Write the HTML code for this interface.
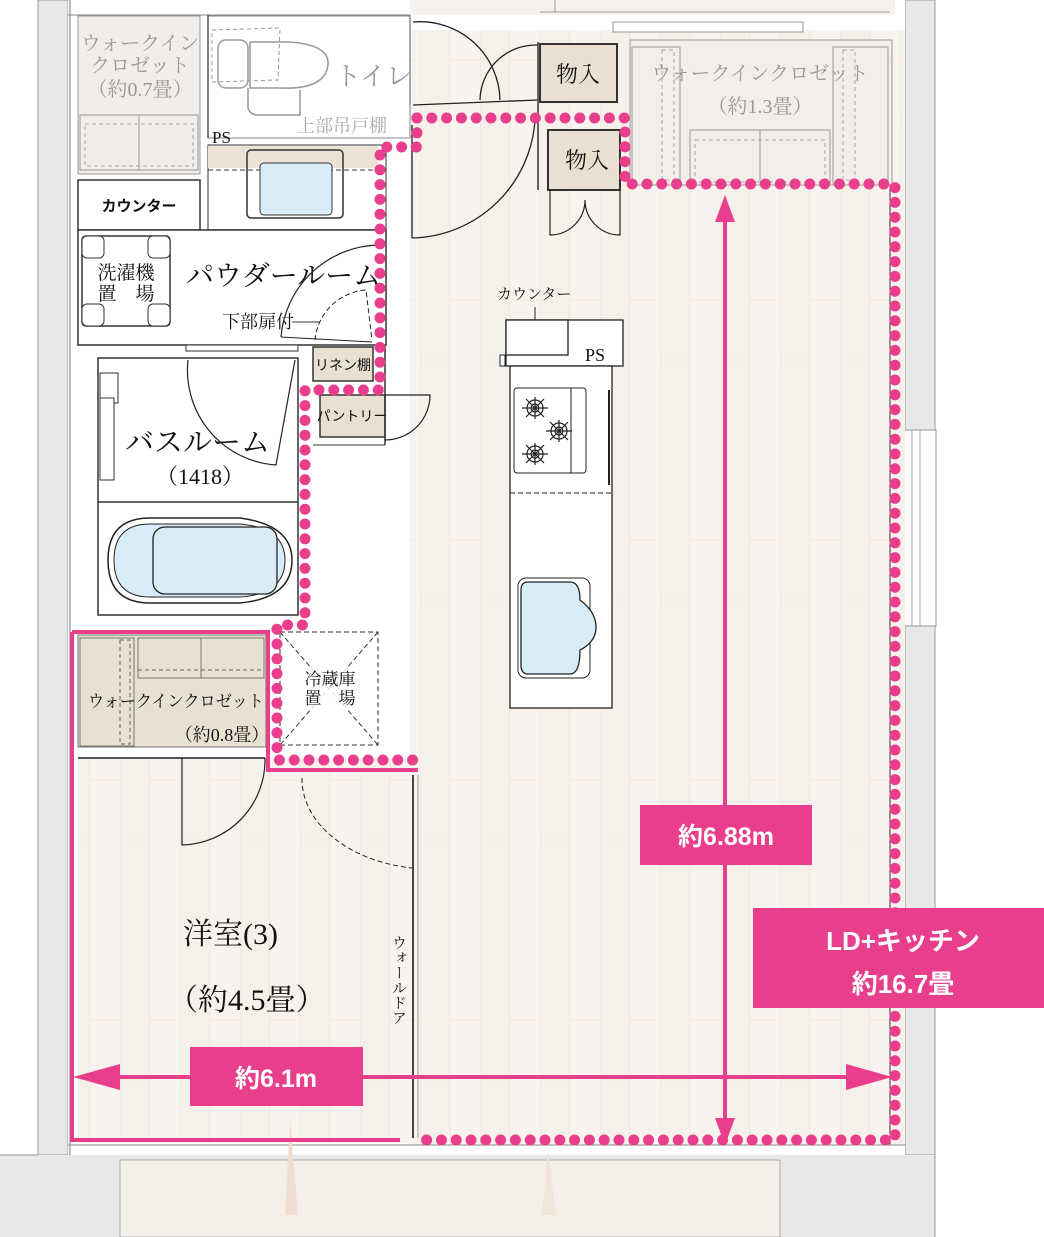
<!DOCTYPE html>
<html><head><meta charset="utf-8"><style>
html,body{margin:0;padding:0;background:#fff;}
svg{display:block;}
.s{font-family:"Liberation Serif","Noto Serif CJK JP",serif;}
.g{font-family:"Liberation Sans","Noto Sans CJK JP",sans-serif;}
</style></head><body>
<svg width="1044" height="1237" viewBox="0 0 1044 1237" xmlns="http://www.w3.org/2000/svg">
<defs>
<pattern id="wood" x="0" y="0" width="60" height="240" patternUnits="userSpaceOnUse">
<rect width="60" height="240" fill="#f8f3ee"/>
<rect x="0" y="0" width="30" height="240" fill="#f6f0ea"/>
<line x1="30" y1="0" x2="30" y2="240" stroke="#efe6de" stroke-width="1"/>
<line x1="0" y1="0" x2="0" y2="240" stroke="#efe6de" stroke-width="1"/>
<line x1="0" y1="120" x2="30" y2="120" stroke="#f0e8e0" stroke-width="1"/>
<line x1="30" y1="60" x2="60" y2="60" stroke="#f0e8e0" stroke-width="1"/>
</pattern>
</defs>
<rect x="38" y="0" width="30" height="1155" fill="#e8e8e8" stroke="#999" stroke-width="1"/>
<rect x="905" y="0" width="30" height="432" fill="#e8e8e8" stroke="#999" stroke-width="1"/>
<rect x="905" y="625" width="30" height="530" fill="#e8e8e8" stroke="#999" stroke-width="1"/>
<rect x="0" y="1155" width="935" height="82" fill="#e8e8e8"/>
<line x1="0" y1="1155" x2="38" y2="1155" stroke="#999"/>
<rect x="120" y="1160" width="660" height="77" fill="#f5efea" stroke="#aaa" stroke-width="1"/>
<line x1="935" y1="0" x2="935" y2="1237" stroke="#999"/>
<rect x="900" y="430" width="36" height="196" fill="#fff" stroke="#999"/>
<line x1="912" y1="430" x2="912" y2="626" stroke="#aaa"/>
<line x1="920" y1="430" x2="920" y2="626" stroke="#aaa"/>
<rect x="68" y="0" width="837" height="1155" fill="#fff"/>
<rect x="410" y="30" width="495" height="1115" fill="url(#wood)"/>
<rect x="78" y="758" width="335" height="385" fill="url(#wood)"/>
<rect x="410" y="0" width="485" height="15" fill="#f6f1ec"/>
<line x1="68" y1="15" x2="410" y2="15" stroke="#888"/>
<rect x="630" y="40" width="262" height="145" fill="#f2eee9" stroke="#999"/>
<line x1="555" y1="0" x2="555" y2="12" stroke="#999"/>
<line x1="540" y1="12" x2="890" y2="12" stroke="#999"/>
<rect x="613" y="22" width="190" height="10" fill="#fff" stroke="#999"/>
<rect x="78" y="16" width="122" height="158" fill="#f1ede8" stroke="#999"/>
<rect x="80" y="115" width="118" height="55" fill="none" stroke="#999"/>
<line x1="139" y1="115" x2="139" y2="170" stroke="#999"/>
<rect x="85" y="124" width="108" height="42" fill="none" stroke="#aaa" stroke-dasharray="4 3"/>
<text class="s" x="140" y="50" font-size="20" fill="#999" text-anchor="middle">ウォークイン</text>
<text class="s" x="140" y="72" font-size="20" fill="#999" text-anchor="middle">クロゼット</text>
<text class="s" x="140" y="96" font-size="20" fill="#999" text-anchor="middle">（約0.7畳）</text>
<rect x="208" y="16" width="202" height="122" fill="#fff" stroke="#888"/>
<line x1="208" y1="15" x2="208" y2="138" stroke="#555" stroke-width="1.5"/>
<path d="M212 30 L280 28 L278 80 L212 82 Z" fill="none" stroke="#999" stroke-dasharray="4 3"/>
<path d="M250 42 L290 42 Q330 45 328 65 Q325 90 280 88 L250 88 Z" fill="none" stroke="#999" stroke-width="1.5"/>
<rect x="218" y="40" width="30" height="48" rx="8" fill="none" stroke="#999" stroke-width="1.5"/>
<path d="M248 88 L248 108 Q250 115 258 115 L300 115 L300 90" fill="none" stroke="#999" stroke-width="1.5"/>
<text class="s" x="335" y="85" font-size="26" fill="#999">トイレ</text>
<text class="s" x="297" y="132" font-size="18" fill="#aaa">上部吊戸棚</text>
<line x1="410" y1="15" x2="410" y2="105" stroke="#555"/>
<path d="M413 22 A80 80 0 0 1 500 100" fill="none" stroke="#222" stroke-width="1.3"/>
<path d="M480 100 A56 56 0 0 1 538 45" fill="none" stroke="#222" stroke-width="1.3"/>
<line x1="413" y1="105" x2="538" y2="100" stroke="#222" stroke-width="1.3"/>
<line x1="538" y1="42" x2="538" y2="190" stroke="#333" stroke-width="1.5"/>
<path d="M412 238 L412 125 M412 238 A126 126 0 0 0 535 120" fill="none" stroke="#222" stroke-width="1.3"/>
<rect x="540" y="44" width="77" height="58" fill="#e9e0d1" stroke="#333" stroke-width="2"/>
<text class="s" x="578" y="82" font-size="22" fill="#111" text-anchor="middle">物入</text>
<rect x="548" y="130" width="72" height="60" fill="#e9e0d1" stroke="#333" stroke-width="2"/>
<text class="s" x="587" y="168" font-size="22" fill="#111" text-anchor="middle">物入</text>
<path d="M550 190 L550 235 A35 35 0 0 0 585 200 M620 190 L620 235 A35 35 0 0 1 585 200" fill="none" stroke="#222" stroke-width="1.2"/>
<rect x="632" y="47" width="48" height="138" fill="none" stroke="#999"/>
<rect x="833" y="47" width="55" height="138" fill="none" stroke="#999"/>
<rect x="662" y="50" width="12" height="130" fill="none" stroke="#aaa" stroke-dasharray="4 3"/>
<rect x="843" y="50" width="12" height="130" fill="none" stroke="#aaa" stroke-dasharray="4 3"/>
<rect x="690" y="130" width="140" height="55" fill="none" stroke="#999"/>
<line x1="760" y1="130" x2="760" y2="185" stroke="#999"/>
<rect x="695" y="140" width="130" height="42" fill="none" stroke="#aaa" stroke-dasharray="4 3"/>
<text class="s" x="760" y="80" font-size="20" fill="#999" text-anchor="middle">ウォークインクロゼット</text>
<text class="s" x="760" y="113" font-size="20" fill="#999" text-anchor="middle">（約1.3畳）</text>
<text class="s" x="212" y="143" font-size="17" fill="#111">PS</text>
<rect x="208" y="145" width="178" height="85" fill="#fff" stroke="#333"/>
<rect x="208" y="146" width="170" height="22" fill="#ebe3d5"/>
<line x1="208" y1="170" x2="378" y2="170" stroke="#333" stroke-dasharray="5 3"/>
<rect x="247" y="150" width="96" height="68" rx="4" fill="none" stroke="#333" stroke-width="1.5"/>
<rect x="260" y="163" width="72" height="52" rx="4" fill="#d8ecf8" stroke="#333"/>
<line x1="208" y1="230" x2="386" y2="230" stroke="#333" stroke-width="1.5"/>
<rect x="78" y="180" width="122" height="50" fill="#fff" stroke="#333" stroke-width="1.5"/>
<text class="g" x="139" y="211" font-size="15" fill="#111" text-anchor="middle" font-weight="bold">カウンター</text>
<rect x="78" y="230" width="308" height="115" fill="#fff" stroke="#333" stroke-width="1.5"/>
<rect x="82" y="236" width="88" height="90" rx="4" fill="#fff" stroke="#333" stroke-width="1.5"/>
<rect x="82" y="236" width="22" height="22" rx="5" fill="#fff" stroke="#333"/>
<rect x="148" y="236" width="22" height="22" rx="5" fill="#fff" stroke="#333"/>
<rect x="82" y="304" width="22" height="22" rx="5" fill="#fff" stroke="#333"/>
<rect x="148" y="304" width="22" height="22" rx="5" fill="#fff" stroke="#333"/>
<text class="s" x="126" y="279" font-size="19" fill="#111" text-anchor="middle">洗濯機</text>
<text class="s" x="126" y="300" font-size="19" fill="#111" text-anchor="middle">置　場</text>
<text class="s" x="186" y="285" font-size="28" fill="#111">パウダールーム</text>
<text class="s" x="222" y="328" font-size="18" fill="#111">下部扉付</text>
<line x1="292" y1="322" x2="320" y2="322" stroke="#333"/>
<path d="M281 337 A100 100 0 0 1 380 245" fill="none" stroke="#222" stroke-width="1.2"/>
<path d="M315 340 A55 55 0 0 1 366 290 L372 340" fill="none" stroke="#222" stroke-dasharray="5 3"/>
<line x1="281" y1="337" x2="372" y2="342" stroke="#222"/>
<rect x="186" y="345" width="112" height="6" fill="#fff" stroke="#333"/>
<rect x="98" y="358" width="200" height="257" fill="#fff" stroke="#333" stroke-width="1.5"/>
<rect x="100" y="373" width="18" height="30" fill="#fff" stroke="#333"/>
<rect x="100" y="398" width="14" height="82" fill="#fff" stroke="#333"/>
<path d="M188 360 A95 95 0 0 0 276 465 L295 360" fill="none" stroke="#222" stroke-width="1.2"/>
<text class="s" x="125" y="452" font-size="29" fill="#111">バスルーム</text>
<text class="s" x="156" y="484" font-size="22" fill="#111">（1418）</text>
<line x1="98" y1="502" x2="298" y2="502" stroke="#333" stroke-width="1.5"/>
<path d="M150 518 L240 518 Q292 525 292 560 Q292 598 240 603 L150 603 Q108 603 108 560 Q108 518 150 518 Z" fill="#fff" stroke="#222" stroke-width="1.5"/>
<path d="M150 524 L240 524 Q285 528 285 560 Q285 594 240 597 L150 597 Q114 597 114 560 Q114 524 150 524 Z" fill="#d8ecf8" stroke="#222"/>
<rect x="153" y="527" width="124" height="67" rx="12" fill="#d8ecf8" stroke="#222" stroke-width="1.3"/>
<rect x="313" y="347" width="60" height="34" fill="#e9e0d1" stroke="#333" stroke-width="1.5"/>
<text class="g" x="343" y="370" font-size="14" fill="#111" text-anchor="middle">リネン棚</text>
<rect x="320" y="395" width="65" height="42" fill="#e9e0d1" stroke="#333" stroke-width="1.5"/>
<text class="g" x="352" y="421" font-size="14" fill="#111" text-anchor="middle">パントリー</text>
<path d="M385 395 L430 395 A45 45 0 0 1 385 440" fill="none" stroke="#222" stroke-width="1.2"/>
<line x1="385" y1="345" x2="385" y2="445" stroke="#333" stroke-width="1.5"/>
<line x1="313" y1="445" x2="385" y2="445" stroke="#333"/>
<text class="s" x="497" y="299" font-size="15" fill="#111">カウンター</text>
<line x1="535" y1="307" x2="535" y2="328" stroke="#222"/>
<rect x="506" y="320" width="117" height="46" fill="#fff" stroke="#222" stroke-width="1.3"/>
<rect x="506" y="320" width="62" height="35" fill="#fff" stroke="#222" stroke-width="1.3"/>
<text class="s" x="585" y="361" font-size="18" fill="#111">PS</text>
<rect x="500" y="355" width="5" height="11" fill="#fff" stroke="#222"/>
<rect x="510" y="366" width="102" height="342" fill="#fff" stroke="#222" stroke-width="1.3"/>
<rect x="514" y="388" width="72" height="85" rx="3" fill="#fff" stroke="#222"/>
<line x1="571" y1="388" x2="571" y2="473" stroke="#222"/>
<g fill="none" stroke="#222" stroke-width="1.2">
<circle cx="535" cy="408" r="8"/><circle cx="535" cy="408" r="4"/><path d="M522 408h26M535 397v22M526 399l18 18M544 399l-18 18"/>
<circle cx="559" cy="431" r="8"/><circle cx="559" cy="431" r="4"/><path d="M546 431h26M559 420v22M550 422l18 18M568 422l-18 18"/>
<circle cx="535" cy="454" r="8"/><circle cx="535" cy="454" r="4"/><path d="M522 454h26M535 443v22M526 445l18 18M544 445l-18 18"/>
</g>
<line x1="609" y1="390" x2="609" y2="485" stroke="#222" stroke-width="2"/>
<line x1="510" y1="493" x2="612" y2="493" stroke="#222" stroke-dasharray="5 3"/>
<rect x="518" y="578" width="72" height="100" rx="8" fill="#fff" stroke="#222"/>
<path d="M528 582 L570 582 Q580 582 580 600 Q596 612 596 627 Q596 642 580 650 Q580 674 570 674 L528 674 Q521 674 521 665 L521 590 Q521 582 528 582Z" fill="#d8ecf8" stroke="#222" stroke-width="1.3"/>
<rect x="280" y="632" width="98" height="113" fill="none" stroke="#333" stroke-dasharray="5 3"/>
<path d="M280 632 L378 745 M378 632 L280 745" stroke="#333" stroke-dasharray="5 3"/>
<rect x="300" y="668" width="60" height="42" fill="#fff" opacity="0.85"/>
<text class="s" x="330" y="685" font-size="17" fill="#111" text-anchor="middle">冷蔵庫</text>
<text class="s" x="330" y="704" font-size="17" fill="#111" text-anchor="middle">置　場</text>
<rect x="78" y="635" width="188" height="112" fill="#e8e0d1" stroke="#777"/>
<rect x="80" y="638" width="54" height="108" fill="none" stroke="#777"/>
<rect x="120" y="640" width="10" height="104" fill="none" stroke="#666" stroke-dasharray="4 3"/>
<rect x="138" y="638" width="126" height="40" fill="none" stroke="#777"/>
<line x1="201" y1="638" x2="201" y2="678" stroke="#777"/>
<line x1="138" y1="670" x2="264" y2="670" stroke="#666" stroke-dasharray="4 3"/>
<text class="s" x="176" y="707" font-size="17" fill="#111" text-anchor="middle" textLength="176" lengthAdjust="spacingAndGlyphs">ウォークインクロゼット</text>
<text class="s" x="222" y="741" font-size="18" fill="#111" text-anchor="middle">（約0.8畳）</text>
<line x1="78" y1="758" x2="265" y2="758" stroke="#555" stroke-width="2"/>
<path d="M182 758 L182 845 A85 85 0 0 0 265 758" fill="none" stroke="#222" stroke-width="1.2"/>
<path d="M302 778 A130 90 0 0 0 412 868" fill="none" stroke="#222" stroke-dasharray="5 3"/>
<line x1="413" y1="775" x2="413" y2="1138" stroke="#444" stroke-width="2"/>
<line x1="418" y1="775" x2="418" y2="1138" stroke="#999" stroke-width="1"/>
<text class="s" x="183" y="944" font-size="30" fill="#111">洋室(3)</text>
<text class="s" x="168" y="1010" font-size="30" fill="#111">（約4.5畳）</text>
<text class="s" font-size="15" fill="#111" writing-mode="tb" x="398" y="935">ウォールドア</text>
<line x1="70" y1="0" x2="70" y2="1155" stroke="#777"/>
<line x1="890" y1="185" x2="890" y2="1145" stroke="#333"/>
<line x1="68" y1="1145" x2="905" y2="1145" stroke="#888"/>
<path d="M290 1120 L285 1215 L298 1215 Z" fill="#f1ddd2"/>
<path d="M548 1150 L542 1215 L556 1215 Z" fill="#f1e4d9"/>
<g stroke="#e83e8c" stroke-width="4" fill="none">
<path d="M72 632 L268 632 L268 770 L418 770"/>
<path d="M72 632 L72 1140 L400 1140"/>
</g>
<g stroke="#e83e8c" stroke-width="11" stroke-linecap="round" stroke-dasharray="0 14.8" fill="none">
<path d="M417 118 L625 118 L625 184 L895 184 L895 1140 L418 1140"/>
<path d="M417 118 L417 147 L380 147 L380 390 L305 390 L305 625 L277 625 L277 760 L415 760"/>
</g>
<g stroke="#e83e8c" stroke-width="4" fill="#e83e8c">
<line x1="725" y1="215" x2="725" y2="1125"/>
<line x1="100" y1="1077" x2="865" y2="1077"/>
</g>
<g fill="#e83e8c">
<polygon points="725,195 715,222 735,222"/>
<polygon points="725,1145 715,1118 735,1118"/>
<polygon points="73,1077 120,1064 120,1090"/>
<polygon points="892,1077 846,1064 846,1090"/>
</g>
<rect x="640" y="805" width="172" height="60" fill="#e83e8c"/>
<text class="g" x="726" y="845" font-size="25" font-weight="bold" fill="#fff" text-anchor="middle">約6.88m</text>
<rect x="190" y="1047" width="173" height="59" fill="#e83e8c"/>
<text class="g" x="276" y="1087" font-size="25" font-weight="bold" fill="#fff" text-anchor="middle">約6.1m</text>
<rect x="753" y="908" width="291" height="100" fill="#e83e8c"/>
<text class="g" x="903" y="950" font-size="26" font-weight="bold" fill="#fff" text-anchor="middle">LD+キッチン</text>
<text class="g" x="903" y="993" font-size="26" font-weight="bold" fill="#fff" text-anchor="middle">約16.7畳</text>
</svg>
</body></html>
